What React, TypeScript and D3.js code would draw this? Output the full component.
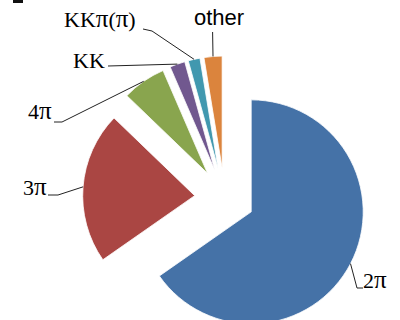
import React from "react";
import * as d3 from "d3";

// Share of events by final state (percent)
const categories = ["2π", "3π", "4π", "KK", "KKπ(π)", "other"];
const shares = [65.3, 21.9, 6.3, 2.2, 1.7, 2.6];
const colors = ["#4572A7", "#AA4643", "#89A54E", "#71588F", "#4198AF", "#DB843D"];

// Label placement: text anchor point, font, and leader line bend points
const labelLayout = [
  { x: 363, y: 288, anchor: "start", serif: true, line: [[357, 288], [363, 288]] },
  { x: 23, y: 195, anchor: "start", serif: true, line: [[58, 195], [48, 195]] },
  { x: 28, y: 119, anchor: "start", serif: true, line: [[62, 122], [54, 122]] },
  { x: 73, y: 68, anchor: "start", serif: true, line: [[108, 66]] },
  { x: 64, y: 27, anchor: "start", serif: true, line: [[152, 31], [143, 29]] },
  { x: 219, y: 25, anchor: "middle", serif: false, line: [[212.6, 32]] },
];

const W = 400;
const H = 320;
const cx = 224.6;
const cy = 198;
const radius = 112;
const explode = 30;

const SERIF = "'Liberation Serif', 'Times New Roman', serif";
const SANS = "'Liberation Sans', Arial, sans-serif";

// Serif labels: Greek pi set slightly larger so it reads at the weight of the Latin letters
function serifParts(label: string) {
  const parts = label.split(/(π)/).filter((s) => s.length > 0);
  return parts.map((p, k) =>
    p === "π" ? (
      <tspan key={k} fontSize={25}>
        π
      </tspan>
    ) : (
      <tspan key={k}>{p}</tspan>
    )
  );
}

export default function App() {
  const data = categories.map((c, i) => ({ name: c, value: shares[i] }));
  const pie = d3
    .pie<{ name: string; value: number }>()
    .value((d) => d.value)
    .sort(null);
  const arcs = pie(data);
  const arc = d3
    .arc<d3.PieArcDatum<{ name: string; value: number }>>()
    .innerRadius(0)
    .outerRadius(radius);

  return (
    <svg
      width={W}
      height={H}
      style={{ position: "absolute", left: 0, top: 0, background: "#fff" }}
    >
      <rect x={13} y={0} width={10} height={3} fill="#111" />
      {arcs.map((a, i) => {
        const mid = (a.startAngle + a.endAngle) / 2;
        const ox = explode * Math.sin(mid);
        const oy = -explode * Math.cos(mid);
        const px = cx + ox + radius * Math.sin(mid);
        const py = cy + oy - radius * Math.cos(mid);
        const lay = labelLayout[i];
        const pts: [number, number][] = [[px, py], ...(lay.line as [number, number][])];
        const line = d3.line()(pts) as string;
        return (
          <g key={a.data.name}>
            <path
              d={arc(a) as string}
              transform={`translate(${cx + ox},${cy + oy})`}
              fill={colors[i]}
              stroke="#fff"
              strokeWidth={0.8}
            />
            <path d={line} fill="none" stroke="#222" strokeWidth={1} />
            <text
              x={lay.x}
              y={lay.y}
              textAnchor={lay.anchor as "start" | "middle"}
              fontFamily={lay.serif ? SERIF : SANS}
              fontSize={22}
              fill="#000"
            >
              {lay.serif ? serifParts(a.data.name) : a.data.name}
            </text>
          </g>
        );
      })}
    </svg>
  );
}
